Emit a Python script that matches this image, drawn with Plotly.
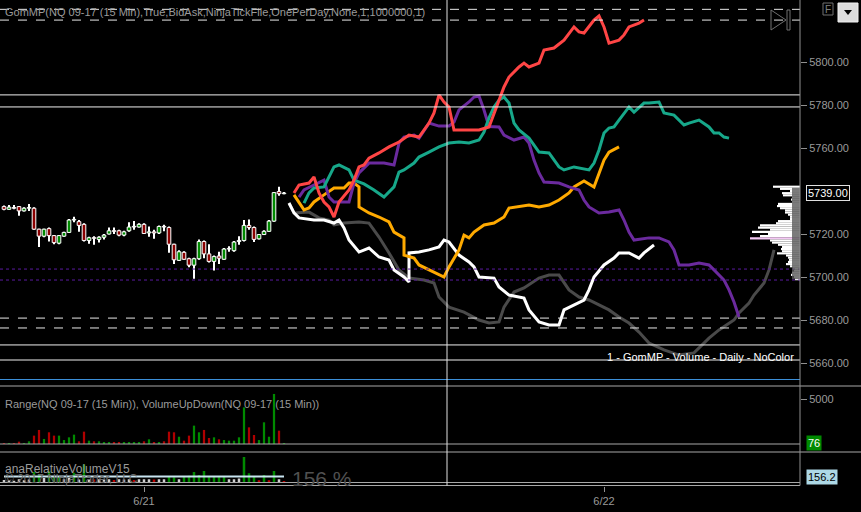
import plotly.graph_objects as go

# NQ 09-17, 15 min bars (index = bar number)
bar_idx = list(range(57))
opens = [5732.75, 5731.5, 5732.25, 5732.75, 5730.75, 5732.0, 5732.0, 5722.25, 5719.0, 5722.5,
         5719.25, 5715.75, 5719.0, 5720.75, 5726.5, 5725.75, 5724.5, 5717.0, 5718.25, 5717.5,
         5718.5, 5720.0, 5721.5, 5721.5, 5719.5, 5721.5, 5723.25, 5723.25, 5724.5, 5720.5,
         5721.0, 5720.5, 5723.5, 5723.0, 5715.25, 5707.75, 5711.5, 5708.5, 5705.5, 5708.5,
         5716.5, 5710.75, 5707.25, 5709.75, 5708.25, 5713.0, 5712.25, 5716.5, 5717.0, 5724.0,
         5723.0, 5717.75, 5719.75, 5721.25, 5726.0, 5739.75, 5738.75]
highs = [5733.25, 5733.5, 5733.5, 5733.0, 5732.5, 5734.0, 5732.5, 5722.5, 5722.5, 5723.0,
         5719.5, 5719.5, 5721.0, 5727.0, 5728.0, 5726.5, 5725.0, 5718.75, 5719.0, 5719.0,
         5720.0, 5723.0, 5723.0, 5722.0, 5721.5, 5725.5, 5726.0, 5725.0, 5725.0, 5723.5,
         5722.0, 5724.0, 5724.25, 5723.5, 5715.5, 5712.5, 5712.0, 5709.0, 5709.0, 5717.5,
         5717.0, 5715.25, 5710.0, 5711.75, 5713.5, 5714.25, 5716.75, 5719.0, 5726.5, 5726.75,
         5723.5, 5720.0, 5721.75, 5726.5, 5739.5, 5742.0, 5739.5]
lows = [5731.0, 5731.25, 5731.5, 5728.5, 5730.5, 5730.75, 5722.0, 5714.0, 5718.5, 5716.5,
        5715.25, 5715.25, 5718.75, 5720.5, 5725.5, 5721.0, 5716.5, 5715.5, 5715.0, 5716.0,
        5717.5, 5719.75, 5720.0, 5719.0, 5719.0, 5721.0, 5722.0, 5723.0, 5720.0, 5718.75,
        5717.75, 5720.0, 5721.25, 5711.25, 5706.0, 5707.5, 5708.0, 5704.5, 5699.25, 5708.0,
        5708.75, 5706.75, 5703.0, 5706.0, 5708.0, 5711.75, 5711.75, 5715.0, 5716.5, 5722.0,
        5716.25, 5717.5, 5719.5, 5721.0, 5725.75, 5737.75, 5738.5]
closes = [5731.5, 5732.5, 5732.0, 5730.75, 5732.0, 5732.25, 5722.25, 5719.0, 5722.25, 5719.25,
          5716.0, 5719.25, 5720.75, 5726.5, 5726.75, 5724.0, 5717.0, 5718.25, 5718.0, 5718.5,
          5719.5, 5721.5, 5721.25, 5719.5, 5721.0, 5723.25, 5723.5, 5724.5, 5720.25, 5721.0,
          5720.5, 5723.5, 5723.25, 5715.25, 5708.0, 5711.75, 5708.25, 5705.5, 5708.5, 5716.5,
          5710.75, 5707.25, 5709.5, 5708.75, 5713.0, 5713.25, 5716.25, 5717.0, 5724.0, 5723.0,
          5717.5, 5719.75, 5721.25, 5726.0, 5739.25, 5738.75, 5739.0]
volumes = [74, 80, 70, 260, 80, 300, 930, 1560, 560, 1300,
           930, 930, 440, 740, 1040, 300, 1370, 370, 300, 300,
           190, 190, 190, 190, 150, 150, 150, 150, 300, 520,
           220, 150, 300, 1370, 1300, 810, 370, 930, 2040, 1300,
           1560, 670, 740, 520, 440, 370, 370, 740, 4070, 1850,
           1000, 440, 2410, 810, 5560, 1480, 76]
rel_volume = [70, 60, 50, 90, 60, 80, 280, 200, 120, 300,
              150, 150, 90, 120, 260, 80, 480, 90, 80, 90,
              80, 90, 70, 90, 80, 90, 70, 90, 90, 90,
              80, 90, 90, 150, 140, 90, 150, 180, 280, 200,
              310, 150, 150, 150, 150, 90, 90, 110, 680, 250,
              150, 60, 200, 60, 310, 90, 40]
rel_kind = ["w", "w", "w", "w", "w", "w", "g", "g", "w", "g",
            "g", "g", "w", "w", "g", "w", "g", "w", "r", "w",
            "w", "w", "r", "w", "w", "w", "r", "w", "w", "w",
            "r", "w", "w", "g", "g", "w", "g", "g", "g", "g",
            "g", "g", "g", "g", "g", "w", "w", "w", "g", "g",
            "g", "r", "g", "r", "g", "w", "r"]
rel_ref = 160
rel_last = 156.2

# GomMP projected paths (bar index, price)
red_x = [58, 59, 61, 62, 63, 64, 65, 66, 67, 69, 70, 71, 72, 73, 75, 77, 79, 81, 83, 85,
         86, 87, 88, 89, 90, 95, 97, 98, 99, 100, 101, 102, 103, 104, 105, 107, 108, 110, 112, 114,
         115, 116, 118, 119, 120, 121, 123, 124, 125, 127, 128]
red_y = [5739.1, 5742.8, 5743.7, 5746.5, 5739.1, 5734.9, 5732.6, 5727.9, 5734.9, 5740.5,
         5745.1, 5751.2, 5752.1, 5755.3, 5757.7, 5760.5, 5762.8, 5766.0, 5765.1, 5771.6,
         5776.3, 5784.7, 5781.4, 5779.1, 5768.4, 5768.4, 5769.8, 5776.3, 5782.3, 5788.4,
         5793.0, 5795.3, 5797.7, 5799.5, 5797.7, 5799.5, 5805.6, 5806.5, 5810.2, 5816.3,
         5814.0, 5813.5, 5819.5, 5821.4, 5816.3, 5808.8, 5810.2, 5812.6, 5816.3, 5818.1, 5819.5]
purple_x = [59, 60, 62, 64, 65, 66, 69, 70, 71, 73, 75, 76, 78, 79, 80, 82, 83, 85, 87, 89,
            90, 91, 93, 94, 95, 96, 97, 99, 100, 102, 104, 105, 106, 107, 108, 111, 113, 115, 116, 117,
            119, 121, 123, 124, 125, 126, 129, 131, 133, 134, 135, 137, 139, 141, 142, 144, 145, 146, 147]
purple_y = [5737.2, 5740.5, 5742.8, 5745.1, 5737.2, 5734.9, 5734.9, 5743.7, 5748.4, 5753.0,
            5753.0, 5753.0, 5752.1, 5762.3, 5765.1, 5766.0, 5764.6, 5771.6, 5770.2, 5770.2,
            5772.1, 5777.7, 5781.4, 5783.7, 5784.2, 5777.7, 5770.0, 5769.8, 5766.0, 5763.7,
            5765.1, 5762.3, 5754.4, 5748.4, 5744.2, 5743.7, 5741.9, 5740.5, 5735.8, 5732.6,
            5729.8, 5730.2, 5731.2, 5726.5, 5720.9, 5717.2, 5718.2, 5718.2, 5716.3, 5712.6,
            5705.6, 5705.6, 5706.5, 5705.6, 5703.3, 5698.6, 5694.0, 5688.4, 5681.4]
teal_x = [60, 61, 62, 64, 66, 67, 69, 70, 72, 74, 76, 78, 79, 80, 82, 83, 85, 87, 89, 91,
          93, 95, 96, 97, 98, 99, 100, 101, 102, 103, 105, 106, 107, 109, 110, 111, 112, 114, 117, 118,
          119, 120, 121, 122, 123, 125, 126, 128, 129, 131, 132, 134, 136, 137, 139, 141, 142, 143, 144, 145]
teal_y = [5734.4, 5739.1, 5741.4, 5741.9, 5751.2, 5752.1, 5749.8, 5745.1, 5743.3, 5740.5,
          5737.2, 5741.9, 5748.8, 5749.8, 5753.0, 5755.8, 5758.1, 5760.5, 5762.3, 5762.8,
          5762.3, 5763.7, 5767.4, 5774.0, 5779.1, 5782.3, 5783.7, 5780.9, 5771.6, 5768.4,
          5764.6, 5761.4, 5758.1, 5757.7, 5754.4, 5751.2, 5749.8, 5751.2, 5749.8, 5753.0,
          5759.1, 5767.0, 5769.3, 5769.8, 5773.0, 5779.1, 5776.7, 5780.9, 5780.9, 5781.4,
          5776.3, 5775.3, 5770.7, 5771.6, 5773.0, 5769.8, 5767.0, 5767.0, 5765.1, 5764.6]
orange_x = [58, 59, 60, 61, 62, 64, 66, 68, 69, 70, 71, 71, 73, 75, 77, 78, 80, 80, 82, 83,
            85, 87, 88, 89, 90, 91, 92, 93, 94, 96, 98, 100, 101, 105, 107, 109, 111, 113, 114, 116,
            118, 119, 120, 121, 123]
orange_y = [5738.2, 5734.4, 5731.2, 5732.1, 5734.9, 5738.2, 5741.4, 5741.4, 5743.7, 5743.7,
            5741.9, 5732.6, 5729.8, 5727.9, 5725.6, 5720.9, 5718.2, 5710.2, 5708.8, 5705.6,
            5703.3, 5700.9, 5700.0, 5704.7, 5708.8, 5712.6, 5719.5, 5718.2, 5720.9, 5724.2,
            5725.1, 5727.9, 5732.1, 5733.5, 5732.6, 5733.5, 5735.8, 5739.1, 5741.9, 5744.7,
            5741.9, 5748.4, 5754.4, 5758.1, 5760.5]
white_x = [57, 58, 59, 62, 64, 66, 67, 68, 69, 71, 73, 75, 77, 78, 80, 81, 81, 83, 85, 87,
           88, 89, 91, 93, 94, 95, 98, 99, 101, 104, 105, 107, 109, 111, 112, 114, 116, 117, 118, 120,
           122, 123, 125, 127, 128, 130]
white_y = [5734.4, 5729.8, 5727.5, 5726.5, 5726.5, 5725.1, 5726.5, 5722.8, 5717.2, 5711.6,
           5713.5, 5709.3, 5707.9, 5703.3, 5700.0, 5697.7, 5711.2, 5711.6, 5712.6, 5714.0,
           5717.2, 5716.3, 5710.2, 5707.0, 5704.7, 5700.0, 5699.5, 5695.4, 5691.6, 5690.2,
           5684.7, 5679.1, 5677.7, 5677.7, 5684.7, 5687.0, 5689.3, 5694.0, 5700.0, 5705.6,
           5708.8, 5711.2, 5711.2, 5708.8, 5711.2, 5714.9]
gray_x = [57, 58, 61, 63, 65, 66, 68, 71, 73, 75, 77, 79, 81, 84, 86, 87, 89, 92, 95, 97,
          99, 100, 102, 104, 107, 109, 111, 113, 115, 117, 119, 121, 123, 125, 127, 129, 132, 135, 138, 139,
          141, 143, 146, 147, 149, 150, 152, 153, 154]
gray_y = [5734.4, 5729.8, 5730.2, 5727.5, 5726.5, 5724.2, 5725.1, 5725.6, 5725.1, 5718.6,
          5711.2, 5703.3, 5699.5, 5698.6, 5697.2, 5690.7, 5686.0, 5683.7, 5680.0, 5678.6,
          5679.1, 5686.0, 5693.0, 5694.9, 5699.5, 5700.9, 5700.9, 5694.0, 5690.7, 5689.3,
          5687.0, 5684.7, 5681.4, 5678.6, 5674.4, 5669.3, 5666.1, 5663.7, 5664.7, 5667.0,
          5671.6, 5675.4, 5680.0, 5683.3, 5687.9, 5691.6, 5697.2, 5703.3, 5712.6]

# daily volume profile
prof_price = [5742, 5741, 5740, 5739, 5738, 5737, 5736, 5735, 5734, 5733, 5732, 5731, 5730, 5729, 5728,
              5727, 5726, 5725, 5724, 5723, 5722, 5721, 5720, 5719, 5718, 5717, 5716, 5715, 5714, 5713,
              5712, 5711, 5710, 5709, 5708, 5707, 5706, 5705, 5704, 5703, 5702, 5701, 5700, 5699]
prof_vol = [675, 500, 250, 450, 425, 200, 225, 200, 550, 575, 500, 375, 375, 300, 250,
            250, 550, 600, 1000, 1050, 750, 1200, 800, 1000, 1250, 750, 700, 550, 450, 475,
            450, 575, 350, 300, 275, 300, 350, 250, 175, 150, 200, 225, 150, 125]
poc_price = 5718
value_area = (5699.0, 5741.5)

# horizontal levels
level_prices = [5824.5, 5819.5, 5784.7, 5779.1, 5703.7, 5698.6, 5680.9, 5676.3, 5668.4, 5661.4]
level_kind = ["wd", "wd", "ws", "ws", "pd", "pd", "wd", "wd", "ws", "ws"]

price_ticks = [5660, 5680, 5700, 5720, 5760, 5780, 5800]
last_price = 5739.00
date_ticks = [28, 120]
date_labels = ["6/21", "6/22"]
cursor_bar = 88.6

W, H = 861, 512
FONT = "Arial, Liberation Sans, sans-serif"
TXT = "#9a9a9a"
UP, DOWN = "#008a00", "#8b0000"


def fx(p):
    return p / W


def fy(p):
    return 1 - p / H


fig = go.Figure()

# candles drawn as wick + body bars so the body width can be set
fig.add_trace(go.Bar(x=bar_idx, base=lows, y=[h - l for h, l in zip(highs, lows)], width=0.18,
                     marker=dict(color="white", line=dict(width=0)), xaxis="x", yaxis="y", hoverinfo="skip"))
body_base = [min(o, c) for o, c in zip(opens, closes)]
body_len = [max(abs(c - o), 0.3) for o, c in zip(opens, closes)]
body_col = [UP if c >= o else DOWN for o, c in zip(opens, closes)]
fig.add_trace(go.Bar(x=bar_idx, base=body_base, y=body_len, width=0.72,
                     marker=dict(color=body_col, line=dict(color="white", width=1)),
                     xaxis="x", yaxis="y", hoverinfo="skip"))

line_sets = [(gray_x, gray_y, "#4a4a4a"), (white_x, white_y, "#ffffff"),
             (orange_x, orange_y, "#ffaa00"), (purple_x, purple_y, "#6b2a9e"),
             (teal_x, teal_y, "#17a88a"), (red_x, red_y, "#ff4545")]
for xs, ys, col in line_sets:
    fig.add_trace(go.Scatter(x=xs, y=ys, mode="lines", line=dict(color=col, width=3),
                             xaxis="x", yaxis="y", hoverinfo="skip"))

prof_colors = ["#f4c8f4" if p == poc_price else "#ffffff" for p in prof_price]
fig.add_trace(go.Bar(x=prof_vol, y=prof_price, orientation="h", width=1.0,
                     marker=dict(color=prof_colors, line=dict(width=0)),
                     xaxis="x2", yaxis="y", hoverinfo="skip"))

fig.add_trace(go.Bar(x=bar_idx, y=volumes, width=0.45,
                     marker=dict(color=["#008a00" if k == UP else "#b00000" for k in body_col], line=dict(width=0)),
                     xaxis="x", yaxis="y2", hoverinfo="skip"))

kind_col = {"g": "#008a00", "r": "#c00000", "w": "#d0d0d0"}
fig.add_trace(go.Bar(x=bar_idx, y=rel_volume, width=0.5,
                     marker=dict(color=[kind_col[k] for k in rel_kind], line=dict(width=0)),
                     xaxis="x", yaxis="y3", hoverinfo="skip"))

shapes = []
lvl_style = {"wd": ("#e8e8e8", "dash"), "ws": ("#f0f0f0", "solid"), "pd": ("#5a1aa0", "dot")}
for p, k in zip(level_prices, level_kind):
    col, dash = lvl_style[k]
    shapes.append(dict(type="line", xref="paper", yref="y", x0=0, x1=fx(800), y0=p, y1=p,
                       line=dict(color=col, width=1, dash=dash)))

# value-area block of the profile
shapes.append(dict(type="rect", xref="paper", yref="y", x0=fx(792), x1=fx(800),
                   y0=value_area[0], y1=value_area[1], fillcolor="#5a5a5a", opacity=0.8,
                   line=dict(width=0), layer="above"))

# panel separators
for ypx, x1, col in [(379.5, 800, "#3c8fd8"), (386, 861, "#a8a8a8"), (444, 800, "#a8a8a8"),
                     (452, 861, "#a8a8a8"), (482.5, 800, "#a8a8a8"), (485.5, 800, "#a8a8a8")]:
    shapes.append(dict(type="line", xref="paper", yref="paper", x0=0, x1=fx(x1), y0=fy(ypx), y1=fy(ypx),
                       line=dict(color=col, width=1)))
shapes.append(dict(type="line", xref="paper", yref="paper", x0=fx(800), x1=fx(800), y0=fy(485.5), y1=1,
                   line=dict(color="#909090", width=1)))
shapes.append(dict(type="line", xref="x", yref="paper", x0=cursor_bar, x1=cursor_bar, y0=fy(485.5), y1=1,
                   line=dict(color="#e0e0e0", width=1)))
shapes.append(dict(type="line", xref="x", yref="y3", x0=bar_idx[0], x1=bar_idx[-1], y0=rel_ref, y1=rel_ref,
                   line=dict(color="#c8e4f0", width=2)))

# top-right icons
shapes.append(dict(type="path", xref="paper", yref="paper",
                   path=f"M {fx(771)} {fy(10)} L {fx(786)} {fy(20)} L {fx(771)} {fy(30)} Z",
                   line=dict(color="#707070", width=1)))
shapes.append(dict(type="rect", xref="paper", yref="paper", x0=fx(787), x1=fx(790), y0=fy(30), y1=fy(10),
                   line=dict(color="#707070", width=1)))
shapes.append(dict(type="rect", xref="paper", yref="paper", x0=fx(823), x1=fx(833), y0=fy(15), y1=fy(3),
                   line=dict(color="#707070", width=1)))
shapes.append(dict(type="rect", xref="paper", yref="paper", x0=fx(838), x1=fx(858), y0=fy(22), y1=fy(3),
                   fillcolor="#dcdcdc", line=dict(color="#f0f0f0", width=1)))
shapes.append(dict(type="path", xref="paper", yref="paper",
                   path=f"M {fx(844)} {fy(10)} L {fx(852)} {fy(10)} L {fx(848)} {fy(15)} Z",
                   fillcolor="black", line=dict(width=0)))

ann = []


def label(x, y, text, size=11, color=TXT, xanchor="left", **kw):
    ann.append(dict(x=x, y=y, xref="paper", yref="paper", text=text, showarrow=False,
                    xanchor=xanchor, yanchor="middle", font=dict(family=FONT, size=size, color=color), **kw))


label(fx(3), fy(12), "GomMP(NQ 09-17 (15 Min),True,BidAsk,NinjaTickFile,OnePerDay,None,1,1000000,1)")
label(fx(796), fy(357), "1 - GomMP - Volume - Daily - NoColor", color="#ffffff", xanchor="right")
label(fx(3), fy(404), "Range(NQ 09-17 (15 Min)), VolumeUpDown(NQ 09-17 (15 Min))")
label(fx(3), fy(469), "anaRelativeVolumeV15", size=12)
label(fx(3), fy(479), "\u00a9 2017 NinjaTrader, LLC", size=12, color="#6a6a6a")
label(fx(322), fy(478), "156 %", size=21, color="#505050", xanchor="center")
label(fx(828), fy(9), "F", size=10, color="#808080", xanchor="center")

ann.append(dict(x=fx(806), y=last_price, xref="paper", yref="y", text=f"{last_price:.2f}", showarrow=False,
                xanchor="left", yanchor="middle", bgcolor="black", bordercolor="#e0e0e0", borderwidth=1, borderpad=1,
                font=dict(family=FONT, size=11, color="white")))
ann.append(dict(x=fx(806), y=volumes[-1], xref="paper", yref="y2", text=str(volumes[-1]), showarrow=False,
                xanchor="left", yanchor="middle", bgcolor="#008a00", borderpad=1,
                font=dict(family=FONT, size=11, color="white")))
ann.append(dict(x=fx(806), y=rel_last, xref="paper", yref="y3", text=f"{rel_last:.1f}", showarrow=False,
                xanchor="left", yanchor="middle", bgcolor="#add8e6", borderpad=1,
                font=dict(family=FONT, size=11, color="black")))

fig.update_layout(
    width=W, height=H, margin=dict(l=0, r=0, t=0, b=0),
    paper_bgcolor="black", plot_bgcolor="black", showlegend=False,
    barmode="overlay", hovermode=False,
    font=dict(family=FONT, size=11, color=TXT),
    xaxis=dict(domain=[0, fx(800)], range=[-0.8, 159.2], anchor="free", position=fy(485.5),
               tickvals=date_ticks, ticktext=date_labels, ticks="outside", ticklen=5, tickcolor="#909090",
               showgrid=False, zeroline=False, showline=False,
               tickfont=dict(color=TXT, size=11)),
    xaxis2=dict(domain=[0, fx(800)], range=[20000, 0], overlaying="x", anchor="y", visible=False),
    yaxis=dict(domain=[fy(380), 1], range=[5652.1, 5828.84], side="right", anchor="x",
               tickvals=price_ticks, ticktext=[f"{t:.2f}" for t in price_ticks], ticks="outside", ticklen=6,
               tickcolor="#909090", showgrid=False, zeroline=False, showline=False,
               tickfont=dict(color=TXT, size=11)),
    yaxis2=dict(domain=[fy(444), fy(386)], range=[0, 6444], side="right", anchor="x",
                tickvals=[5000], ticktext=["5000"], ticks="outside", ticklen=6, tickcolor="#909090",
                showgrid=False, zeroline=False, showline=False, tickfont=dict(color=TXT, size=11)),
    yaxis3=dict(domain=[fy(482.5), fy(452)], range=[0, 815], side="right", anchor="x",
                showticklabels=False, showgrid=False, zeroline=False, showline=False),
    shapes=shapes, annotations=ann,
)

fig.write_html("out.html", config={"displayModeBar": False},
               post_script="document.body.style.margin='0';document.body.style.background='black';")
